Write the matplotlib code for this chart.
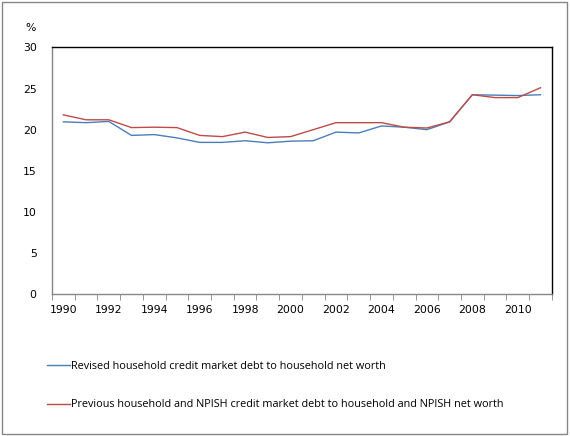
import numpy as np
import matplotlib.pyplot as plt
from matplotlib.patches import Rectangle

years = list(range(1990, 2012))
revised = [20.95, 20.85, 21.0, 19.3, 19.4, 19.0, 18.45, 18.45, 18.65, 18.4, 18.6,
           18.65, 19.7, 19.6, 20.45, 20.3, 20.0, 20.95, 24.25, 24.2, 24.15, 24.25]
previous = [21.8, 21.2, 21.2, 20.25, 20.3, 20.25, 19.3, 19.15, 19.7, 19.05, 19.15,
            20.0, 20.85, 20.85, 20.85, 20.3, 20.2, 20.95, 24.25, 23.9, 23.9, 25.1]
labels = ["Revised household credit market debt to household net worth",
          "Previous household and NPISH credit market debt to household and NPISH net worth"]

blue = "#4a7ebb"
red = "#be4b48"
gray = "#868686"

fig = plt.figure(figsize=(5.7, 4.36), dpi=100)
fig.add_artist(Rectangle((0.004, 0.005), 0.991, 0.99, transform=fig.transFigure,
                         fill=False, edgecolor=gray, linewidth=1))

ax = fig.add_axes([0.0912, 0.3257, 0.877, 0.5654])
x = np.arange(len(years))
l1, = ax.plot(x, revised, color=blue, linewidth=1)
l2, = ax.plot(x, previous, color=red, linewidth=1)

ax.set_xlim(-0.5, len(years) - 0.5)
ax.set_ylim(0, 30)
ax.set_yticks(range(0, 31, 5))
ax.set_xticks(x[::2])
ax.set_xticklabels([str(y) for y in years[::2]])
ax.set_xticks(np.arange(-0.5, len(years)), minor=True)
ax.tick_params(axis='x', which='major', length=0, pad=8, labelsize=7.8)
ax.tick_params(axis='x', which='minor', length=4, color=gray, direction='out')
ax.tick_params(axis='y', length=0, pad=11, labelsize=7.8)

ax.spines['top'].set_color('black')
ax.spines['right'].set_color('black')
ax.spines['left'].set_color(gray)
ax.spines['bottom'].set_color(gray)
for s in ax.spines.values():
    s.set_linewidth(1)

fig.text(0.045, 0.928, "%", fontsize=7.8)

leg = fig.legend([l1, l2], labels, loc='upper left', bbox_to_anchor=(0.065, 0.195),
                 frameon=False, handlelength=2.1, handletextpad=0.1,
                 labelspacing=2.55, prop={'family': 'Open Sans', 'size': 7.8})

fig.savefig("out.png", dpi=100)
